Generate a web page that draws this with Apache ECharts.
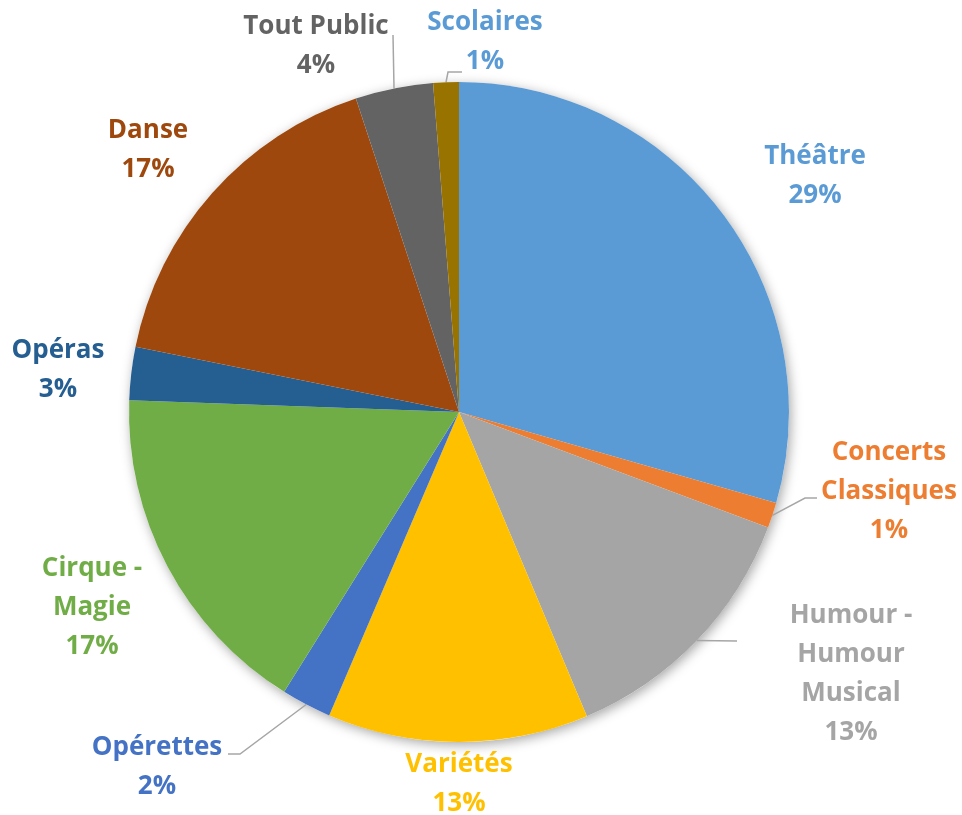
<!DOCTYPE html>
<html><head><meta charset="utf-8">
<script src="https://cdn.jsdelivr.net/npm/echarts@6/dist/echarts.min.js"></script>
<style>html,body{margin:0;padding:0;background:#fff}#c{width:962px;height:815px}</style>
</head><body><div id="c"></div>
<script>
// Data
const categories = ['Théâtre','Concerts\nClassiques','Humour -\nHumour\nMusical','Variétés','Opérettes','Cirque -\nMagie','Opéras','Danse','Tout Public','Scolaires'];
const values = [29.4, 1.25, 12.95, 12.75, 2.45, 16.65, 2.6, 16.75, 3.8, 1.25];

// Styles / layout of annotations
const colors = ['#5B9BD5','#ED7D31','#A5A5A5','#FFC000','#4472C4','#70AD47','#255E91','#9E480E','#636363','#997300'];
const labelColors = ['#5B9BD5','#ED7D31','#A5A5A5','#FFC000','#4472C4','#70AD47','#255E91','#9E480E','#636363','#5B9BD5'];
const labelPos = [[815,176],[889,492],[851,674],[459,784],[157,767],[92,608],[58,370],[148,150],[316,46],[485,42]];
const leaders = [null,[[805,498],[817,498]],[[737,641]],null,[[240,754],[228,754]],null,null,null,[[393,35]],[[448,72],[462,72]]];

const total = values.reduce((a,b)=>a+b,0);
const chart = echarts.init(document.getElementById('c'), null, {renderer:'canvas'});
const data = categories.map((n,i)=>({
  name:n, value:values[i],
  itemStyle:{color:colors[i]},
  label:{color:labelColors[i]},
  labelLine:{show: !!leaders[i]}
}));
chart.setOption({
  animation:false,
  series:[
    {
      type:'pie', radius:330, center:[459,412], silent:true, z:1,
      data:[{value:1, itemStyle:{color:'#fff', shadowBlur:12, shadowOffsetX:2, shadowOffsetY:3, shadowColor:'rgba(0,0,0,0.35)'}}],
      label:{show:false}, labelLine:{show:false}
    },
    {
      type:'pie', radius:330, center:[459,412], z:2,
      startAngle:90, clockwise:true, avoidLabelOverlap:false,
      itemStyle:{borderWidth:0},
      label:{
        show:true, position:'outside',
        fontFamily:'Open Sans', fontWeight:'bold', fontSize:26, lineHeight:39,
        align:'center',
        formatter: p => p.name + '\n' + Math.round(p.value/total*100) + '%'
      },
      labelLine:{show:true, smooth:false, length:10, length2:10, lineStyle:{color:'#A6A6A6', width:1.5}},
      labelLayout: function(p){
        const i = p.dataIndex;
        const out = {x:labelPos[i][0], y:labelPos[i][1], align:'center', verticalAlign:'middle', hideOverlap:false};
        if (leaders[i] && p.labelLinePoints) {
          out.labelLinePoints = [p.labelLinePoints[0]].concat(leaders[i]);
        }
        return out;
      },
      data:data
    }
  ]
});
</script>
</body></html>
